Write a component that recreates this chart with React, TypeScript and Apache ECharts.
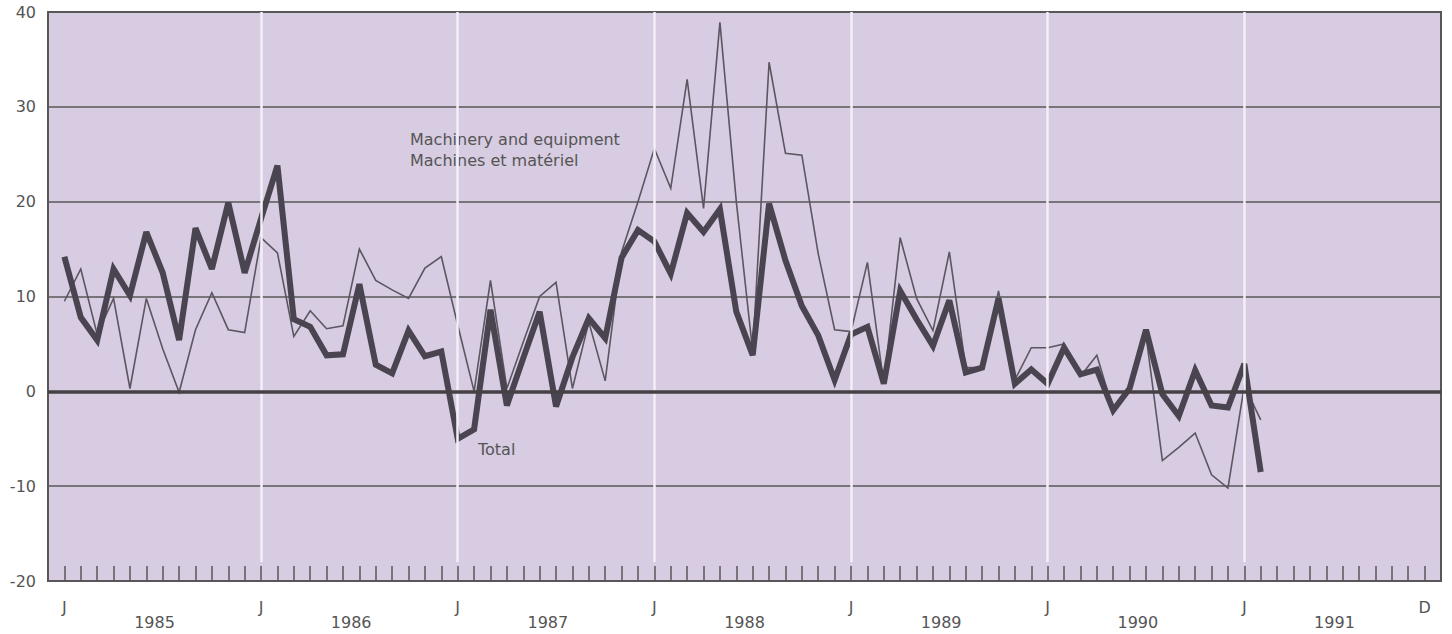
import React, { useEffect, useRef } from "react";
import * as echarts from "echarts";

// Month index 0 = January 1985
const yearLabels = ["1985", "1986", "1987", "1988", "1989", "1990", "1991"];
const yTicks = [-20, -10, 0, 10, 20, 30, 40];

// Total (thick line), monthly values Jan 1985 - Feb 1991
const totalValues = [
  14.2, 7.8, 5.4, 12.9, 10.1, 16.8, 12.5, 5.4, 17.2, 12.9, 19.9, 12.5,
  18.2, 23.8, 7.6, 6.8, 3.8, 3.9, 11.3, 2.8, 1.9, 6.4, 3.7, 4.2,
  -5.0, -4.0, 8.6, -1.5, 3.5, 8.4, -1.6, 3.6, 7.7, 5.6, 14.1, 17.0,
  15.8, 12.4, 18.8, 16.8, 19.2, 8.4, 3.8, 19.8, 13.8, 9.0, 5.9, 1.2,
  6.0, 6.8, 0.8, 10.6, 7.6, 4.8, 9.6, 2.0, 2.5, 9.8, 0.8, 2.3,
  0.8, 4.6, 1.8, 2.3, -2.0, 0.3, 6.5, -0.3, -2.6, 2.2, -1.5, -1.7,
  2.9, -8.5,
];

// Machinery and equipment (thin line)
const machineryValues = [
  9.5, 12.9, 6.0, 9.8, 0.3, 9.8, 4.5, -0.1, 6.5, 10.4, 6.5, 6.2,
  16.2, 14.6, 5.8, 8.5, 6.6, 6.9, 15.0, 11.7, 10.7, 9.8, 13.0, 14.2,
  7.0, 0.0, 11.7, 0.3, 5.2, 10.0, 11.5, 0.3, 7.3, 1.1, 14.7, 20.0,
  25.6, 21.4, 32.9, 19.3, 38.9, 20.0, 4.2, 34.7, 25.1, 24.9, 14.5, 6.5,
  6.3, 13.6, 0.8, 16.2, 9.8, 6.4, 14.7, 2.5, 2.5, 10.6, 1.2, 4.6,
  4.6, 5.0, 1.6, 3.8, -2.0, 0.0, 5.9, -7.3, -5.9, -4.4, -8.8, -10.2,
  0.6, -3.0,
];

const januaryMonths = [12, 24, 36, 48, 60, 72];
const lastMonth = 83;

const labelColor = "#555555";
const gridColor = "#575757";

export default function App() {
  const ref = useRef<HTMLDivElement>(null);

  useEffect(() => {
    if (!ref.current) return;
    const chart = echarts.init(ref.current, undefined, { renderer: "svg" });

    const option: any = {
      animation: false,
      textStyle: { fontFamily: "DejaVu Sans" },
      grid: {
        left: 48,
        right: 11,
        top: 12,
        bottom: 53,
        show: true,
        backgroundColor: "#d7cce1",
        borderColor: gridColor,
        borderWidth: 2,
      },
      xAxis: [
        {
          type: "value",
          min: -1,
          max: 84,
          interval: 1,
          axisLine: { show: true, onZero: false, lineStyle: { color: gridColor, width: 2 } },
          axisTick: {
            show: true,
            inside: true,
            length: 15,
            lineStyle: { color: gridColor, width: 1.5 },
          },
          axisLabel: {
            show: true,
            margin: 18,
            fontSize: 16,
            color: labelColor,
            showMinLabel: true,
            showMaxLabel: true,
            formatter: (v: number) => {
              if (v >= 0 && v <= 72 && v % 12 === 0) return "J";
              if (v === lastMonth) return "D";
              return "";
            },
          },
          splitLine: { show: false },
        },
        {
          type: "value",
          position: "bottom",
          min: -1,
          max: 84,
          interval: 0.5,
          axisLine: { show: false, onZero: false },
          axisTick: { show: false },
          splitLine: { show: false },
          axisLabel: {
            show: true,
            margin: 33,
            fontSize: 16,
            color: labelColor,
            formatter: (v: number) => {
              const k = (v - 5.5) / 12;
              if (Math.abs(k - Math.round(k)) < 1e-6) {
                const idx = Math.round(k);
                if (idx >= 0 && idx < yearLabels.length) return yearLabels[idx];
              }
              return "";
            },
          },
        },
      ],
      yAxis: {
        type: "value",
        min: yTicks[0],
        max: yTicks[yTicks.length - 1],
        interval: 10,
        axisLine: { show: true, onZero: false, lineStyle: { color: gridColor, width: 2 } },
        axisTick: { show: false },
        axisLabel: { fontSize: 16, color: labelColor, margin: 12 },
        splitLine: { show: true, lineStyle: { color: gridColor, width: 1.6 } },
      },
      series: [
        {
          type: "line",
          data: [],
          z: 1,
          silent: true,
          markLine: {
            silent: true,
            symbol: ["none", "none"],
            label: { show: false },
            data: [
              ...januaryMonths.map((m) => [
                { coord: [m, 40], lineStyle: { color: "#f3eff6", width: 2.5, type: "solid" } },
                { coord: [m, -18] },
              ]),
              [
                { coord: [-1, 0], lineStyle: { color: "#444044", width: 3.5, type: "solid" } },
                { coord: [84, 0] },
              ],
            ],
          },
        },
        {
          name: "Machinery and equipment",
          type: "line",
          z: 3,
          symbol: "none",
          data: machineryValues.map((v, i) => [i, v]),
          lineStyle: { color: "#5b5661", width: 1.6, join: "miter", miterLimit: 4 },
        },
        {
          name: "Total",
          type: "line",
          z: 4,
          symbol: "none",
          data: totalValues.map((v, i) => [i, v]),
          lineStyle: { color: "#4a4450", width: 6, join: "miter", miterLimit: 3 },
        },
      ],
      graphic: [
        {
          type: "text",
          left: 410,
          top: 131,
          style: { text: "Machinery and equipment", fill: labelColor, fontSize: 16, fontFamily: "DejaVu Sans" },
        },
        {
          type: "text",
          left: 410,
          top: 152,
          style: { text: "Machines et matériel", fill: labelColor, fontSize: 16, fontFamily: "DejaVu Sans" },
        },
        {
          type: "text",
          left: 478,
          top: 441,
          style: { text: "Total", fill: labelColor, fontSize: 16, fontFamily: "DejaVu Sans" },
        },
      ],
    };

    chart.setOption(option);
    return () => chart.dispose();
  }, []);

  return (
    <div
      ref={ref}
      style={{ position: "absolute", left: 0, top: 0, width: 1452, height: 634, background: "#ffffff" }}
    />
  );
}
